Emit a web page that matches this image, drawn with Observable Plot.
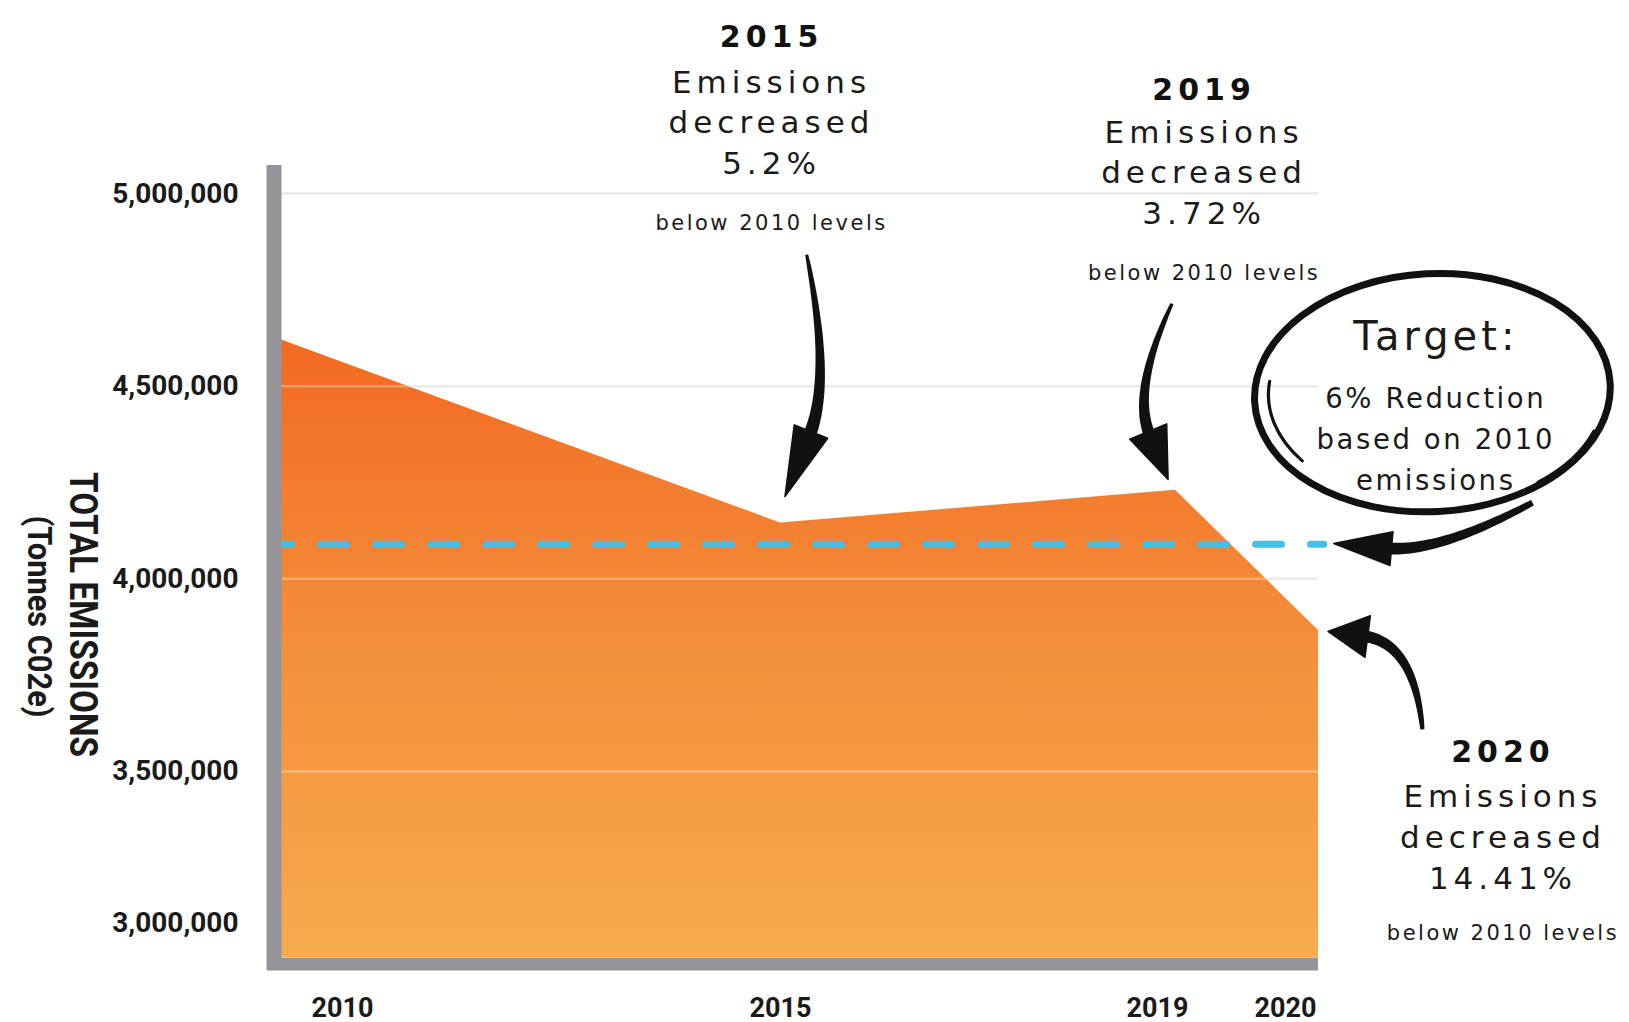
<!DOCTYPE html>
<html>
<head>
<meta charset="utf-8">
<script src="https://cdn.jsdelivr.net/npm/d3@7"></script>
<script src="https://cdn.jsdelivr.net/npm/@observablehq/plot@0.6"></script>
<style>
  html, body { margin: 0; padding: 0; background: #fff; }
  #chart svg { display: block; }
  g[aria-description="ls5"] { letter-spacing: 5px; }
  g[aria-description="ls4"] { letter-spacing: 4px; }
  g[aria-description="ls3"] { letter-spacing: 2.6px; }
  g[aria-description="ls2"] { letter-spacing: 2.5px; }
</style>
</head>
<body>
<div id="chart"></div>
<script>
// ---- data ----
const years = [2010, 2015, 2019, 2020];
const emissions = [4620000, 4145000, 4230000, 3866000];
const target = 4090000;
const yTicks = [3500000, 4000000, 4500000, 5000000];
const yBottomTick = [3000000];
const xTickLabels = ["2010", "2015", "2019", "2020"];
const yTitle = ["TOTAL EMISSIONS", "(Tonnes C02e)"];

const calloutYears = ["2015", "2019", "2020"];
const calloutPct = ["5.2%", "3.72%", "14.41%"];
const calloutNote = "below 2010 levels";
const targetTitle = "Target:";
const targetBody = "6% Reduction\nbased on 2010\nemissions";

const data = years.map((year, i) => ({year, value: emissions[i]}));

// annotation anchors, in data units (year, tonnes)
const callouts = [
  {x: 2014.91, year: calloutYears[0], pct: calloutPct[0], yYear: 5406300, yBody: 5190800, yNote: 4923400},
  {x: 2019.20, year: calloutYears[1], pct: calloutPct[1], yYear: 5268000, yBody: 5061000, yNote: 4792800},
  {x: 2021.29, year: calloutYears[2], pct: calloutPct[2], yYear: 3550100, yBody: 3334900, yNote: 3080400}
];
const targetNote = {x: 2020.82, yTitle: 4627500, yBody: 4370500};
const ellipseAnchor = {x: 2020.80, y: 4482000};

const arrowSpecs = [
  {x1: 2015.27, y1: 4840400, x2: 2015.05, y2: 4212400, bow: -0.15, head: 70, headW: 36, w0: 3, w1: 13},
  {x1: 2018.97, y1: 4713250, x2: 2018.93, y2: 4256500, bow: 0.22, head: 52, headW: 40, w0: 3, w1: 12},
  {x1: 2021.50, y1: 4196800, x2: 2020.11, y2: 4090400, bow: -0.15, head: 58, headW: 34, w0: 6, w1: 12},
  {x1: 2020.73, y1: 3607800, x2: 2020.07, y2: 3862100, bow: 0.4, head: 40, headW: 42, w0: 4, w1: 12}
];

const yMin = 3017000, yMax = 5073000;
const NS = "http://www.w3.org/2000/svg";
const ink = "#1a1a1a";
const gray = "#939598";
const handFont = "DejaVu Sans, sans-serif";

const defsMark = () => {
  const defs = document.createElementNS(NS, "defs");
  defs.innerHTML = `<linearGradient id="emisGrad" x1="0" y1="0" x2="0" y2="1">
      <stop offset="0" stop-color="#f26a22"/>
      <stop offset="0.5" stop-color="#f48f3a"/>
      <stop offset="1" stop-color="#f7ab4c"/>
    </linearGradient>`;
  return defs;
};

const sketchMark = (index, scales) => {
  const {x, y} = scales;
  const g = document.createElementNS(NS, "g");
  const addPath = (d, attrs) => {
    const p = document.createElementNS(NS, "path");
    p.setAttribute("d", d);
    for (const k in attrs) p.setAttribute(k, attrs[k]);
    g.appendChild(p);
  };
  for (const a of arrowSpecs) {
    const p0 = [x(a.x1), y(a.y1)], p2 = [x(a.x2), y(a.y2)];
    const L = Math.hypot(p2[0] - p0[0], p2[1] - p0[1]);
    const dd = [(p2[0] - p0[0]) / L, (p2[1] - p0[1]) / L];
    const n = [-dd[1], dd[0]];
    const c = [(p0[0] + p2[0]) / 2 + n[0] * a.bow * L, (p0[1] + p2[1]) / 2 + n[1] * a.bow * L];
    let t = [p2[0] - c[0], p2[1] - c[1]];
    const tl = Math.hypot(t[0], t[1]);
    t = [t[0] / tl, t[1] / tl];
    const base = [p2[0] - t[0] * (a.head - 4), p2[1] - t[1] * (a.head - 4)];
    const left = [], right = [];
    const N = 40;
    for (let i = 0; i <= N; i++) {
      const s = i / N;
      const px = (1 - s) * (1 - s) * p0[0] + 2 * (1 - s) * s * c[0] + s * s * base[0];
      const py = (1 - s) * (1 - s) * p0[1] + 2 * (1 - s) * s * c[1] + s * s * base[1];
      const tx = 2 * (1 - s) * (c[0] - p0[0]) + 2 * s * (base[0] - c[0]);
      const ty = 2 * (1 - s) * (c[1] - p0[1]) + 2 * s * (base[1] - c[1]);
      const tn = Math.hypot(tx, ty);
      const nx = -ty / tn, ny = tx / tn;
      const w = (a.w0 + (a.w1 - a.w0) * Math.pow(s, 0.7)) / 2;
      left.push([px + nx * w, py + ny * w]);
      right.push([px - nx * w, py - ny * w]);
    }
    const pts = left.concat(right.reverse());
    addPath("M" + pts.map(p => p[0].toFixed(1) + "," + p[1].toFixed(1)).join("L") + "Z", {fill: "#111"});
    const hb = [p2[0] - t[0] * a.head, p2[1] - t[1] * a.head];
    const nt = [-t[1], t[0]];
    const h1 = [hb[0] + nt[0] * a.headW / 2, hb[1] + nt[1] * a.headW / 2];
    const h2 = [hb[0] - nt[0] * a.headW / 2, hb[1] - nt[1] * a.headW / 2];
    addPath(`M${p2[0]},${p2[1]}L${h1[0]},${h1[1]}L${h2[0]},${h2[1]}Z`, {fill: "#111", stroke: "#111", "stroke-width": 1.5, "stroke-linejoin": "round"});
  }
  // hand-drawn loop around the target note
  const cx = x(ellipseAnchor.x), cy = y(ellipseAnchor.y);
  const e = document.createElementNS(NS, "ellipse");
  e.setAttribute("cx", cx); e.setAttribute("cy", cy);
  e.setAttribute("rx", 178); e.setAttribute("ry", 119);
  e.setAttribute("transform", `rotate(-3 ${cx} ${cy})`);
  e.setAttribute("fill", "none"); e.setAttribute("stroke", "#111"); e.setAttribute("stroke-width", 7);
  g.appendChild(e);
  const rx2 = 168, ry2 = 110, cx2 = cx + 4, cy2 = cy + 2;
  const a1 = 187 * Math.PI / 180, a2 = 143 * Math.PI / 180;
  addPath(`M${cx2 + rx2 * Math.cos(a1)},${cy2 + ry2 * Math.sin(a1)} A${rx2},${ry2} 0 0 0 ${cx2 + rx2 * Math.cos(a2)},${cy2 + ry2 * Math.sin(a2)}`,
    {fill: "none", stroke: "#111", "stroke-width": 3.2, "stroke-linecap": "round"});
  const a3 = 20 * Math.PI / 180, a4 = 52 * Math.PI / 180;
  addPath(`M${cx + 172 * Math.cos(a3)},${cy + 114 * Math.sin(a3)} A172,114 0 0 1 ${cx + 172 * Math.cos(a4)},${cy + 114 * Math.sin(a4)}`,
    {fill: "none", stroke: "#111", "stroke-width": 4, "stroke-linecap": "round"});
  return g;
};

const xShift = {2010: 61, 2015: 0, 2019: -18, 2020: -33};

const plot = Plot.plot({
  width: 1629,
  height: 1022,
  marginLeft: 281,
  marginRight: 311,
  marginTop: 165,
  marginBottom: 65,
  style: {fontFamily: "Roboto, sans-serif", color: ink, background: "#fff", overflow: "visible"},
  x: {type: "linear", domain: years, range: [281, 780, 1175, 1318], axis: null},
  y: {domain: [yMin, yMax], axis: null},
  marks: [
    defsMark,
    Plot.ruleY(yTicks, {stroke: "#e3e3e3", strokeWidth: 2.5}),
    Plot.areaY(data, {x: "year", y1: yMin, y2: "value", fill: "url(#emisGrad)"}),
    Plot.ruleY(yTicks, {stroke: "#ffffff", strokeOpacity: 0.3, strokeWidth: 2.5}),
    Plot.ruleY([target], {x1: 2010, x2: 2020.04, stroke: "#45bfe2", strokeWidth: 7,
      strokeDasharray: "26,29", strokeDashoffset: 15.5, strokeLinecap: "round"}),
    Plot.ruleX([2010], {dx: -7.5, stroke: gray, strokeWidth: 15, insetBottom: -13}),
    Plot.ruleY([yMin], {dy: 6.5, stroke: gray, strokeWidth: 13, insetLeft: -14}),
    // y tick labels
    Plot.text(yTicks, {y: d => d, text: d => d3.format(",")(d), frameAnchor: "left", textAnchor: "end",
      dx: -43, fontSize: 28, fontWeight: "bold", fill: ink}),
    Plot.text(yBottomTick, {y: d => d, text: d => d3.format(",")(d), frameAnchor: "left", textAnchor: "end",
      dx: -43, dy: -41.5, fontSize: 28, fontWeight: "bold", fill: ink}),
    // x tick labels
    ...years.map((yr, i) => Plot.text([xTickLabels[i]], {x: () => yr, text: d => d, frameAnchor: "bottom",
      dy: 59, dx: xShift[yr], fontSize: 27, fontWeight: "bold", fill: ink})),
    // y title (reads top to bottom)
    Plot.text([yTitle[0]], {x: () => 2010, y: () => 3907500, text: d => d, rotate: 90, dx: -199,
      fontSize: 39, fontWeight: "bold", fill: ink}),
    Plot.text([yTitle[1]], {x: () => 2010, y: () => 3902000, text: d => d, rotate: 90, dx: -243,
      fontSize: 34, fontWeight: "bold", fill: ink}),
    // callouts
    Plot.text(callouts, {x: "x", y: "yYear", text: "year", fontFamily: handFont, fontWeight: "bold",
      fontSize: 30, fill: "#111", ariaDescription: "ls5"}),
    Plot.text(callouts, {x: "x", y: "yBody", text: d => `Emissions\ndecreased\n${d.pct}`, fontFamily: handFont,
      fontSize: 31, lineHeight: 1.31, fill: ink, ariaDescription: "ls5"}),
    Plot.text(callouts, {x: "x", y: "yNote", text: () => calloutNote, fontFamily: handFont,
      fontSize: 21, fill: ink, ariaDescription: "ls2"}),
    Plot.text([targetNote], {x: "x", y: "yTitle", text: () => targetTitle, fontFamily: handFont,
      fontSize: 40, fill: ink, ariaDescription: "ls4"}),
    Plot.text([targetNote], {x: "x", y: "yBody", text: () => targetBody, fontFamily: handFont,
      fontSize: 27.5, lineHeight: 1.49, fill: ink, ariaDescription: "ls3"}),
    sketchMark
  ]
});

for (const t of plot.querySelectorAll("text")) {
  if (t.textContent === yTitle[0]) { t.setAttribute("textLength", 285); t.setAttribute("lengthAdjust", "spacingAndGlyphs"); }
  if (t.textContent === yTitle[1]) { t.setAttribute("textLength", 202); t.setAttribute("lengthAdjust", "spacingAndGlyphs"); }
}

document.getElementById("chart").appendChild(plot);
</script>
</body>
</html>
